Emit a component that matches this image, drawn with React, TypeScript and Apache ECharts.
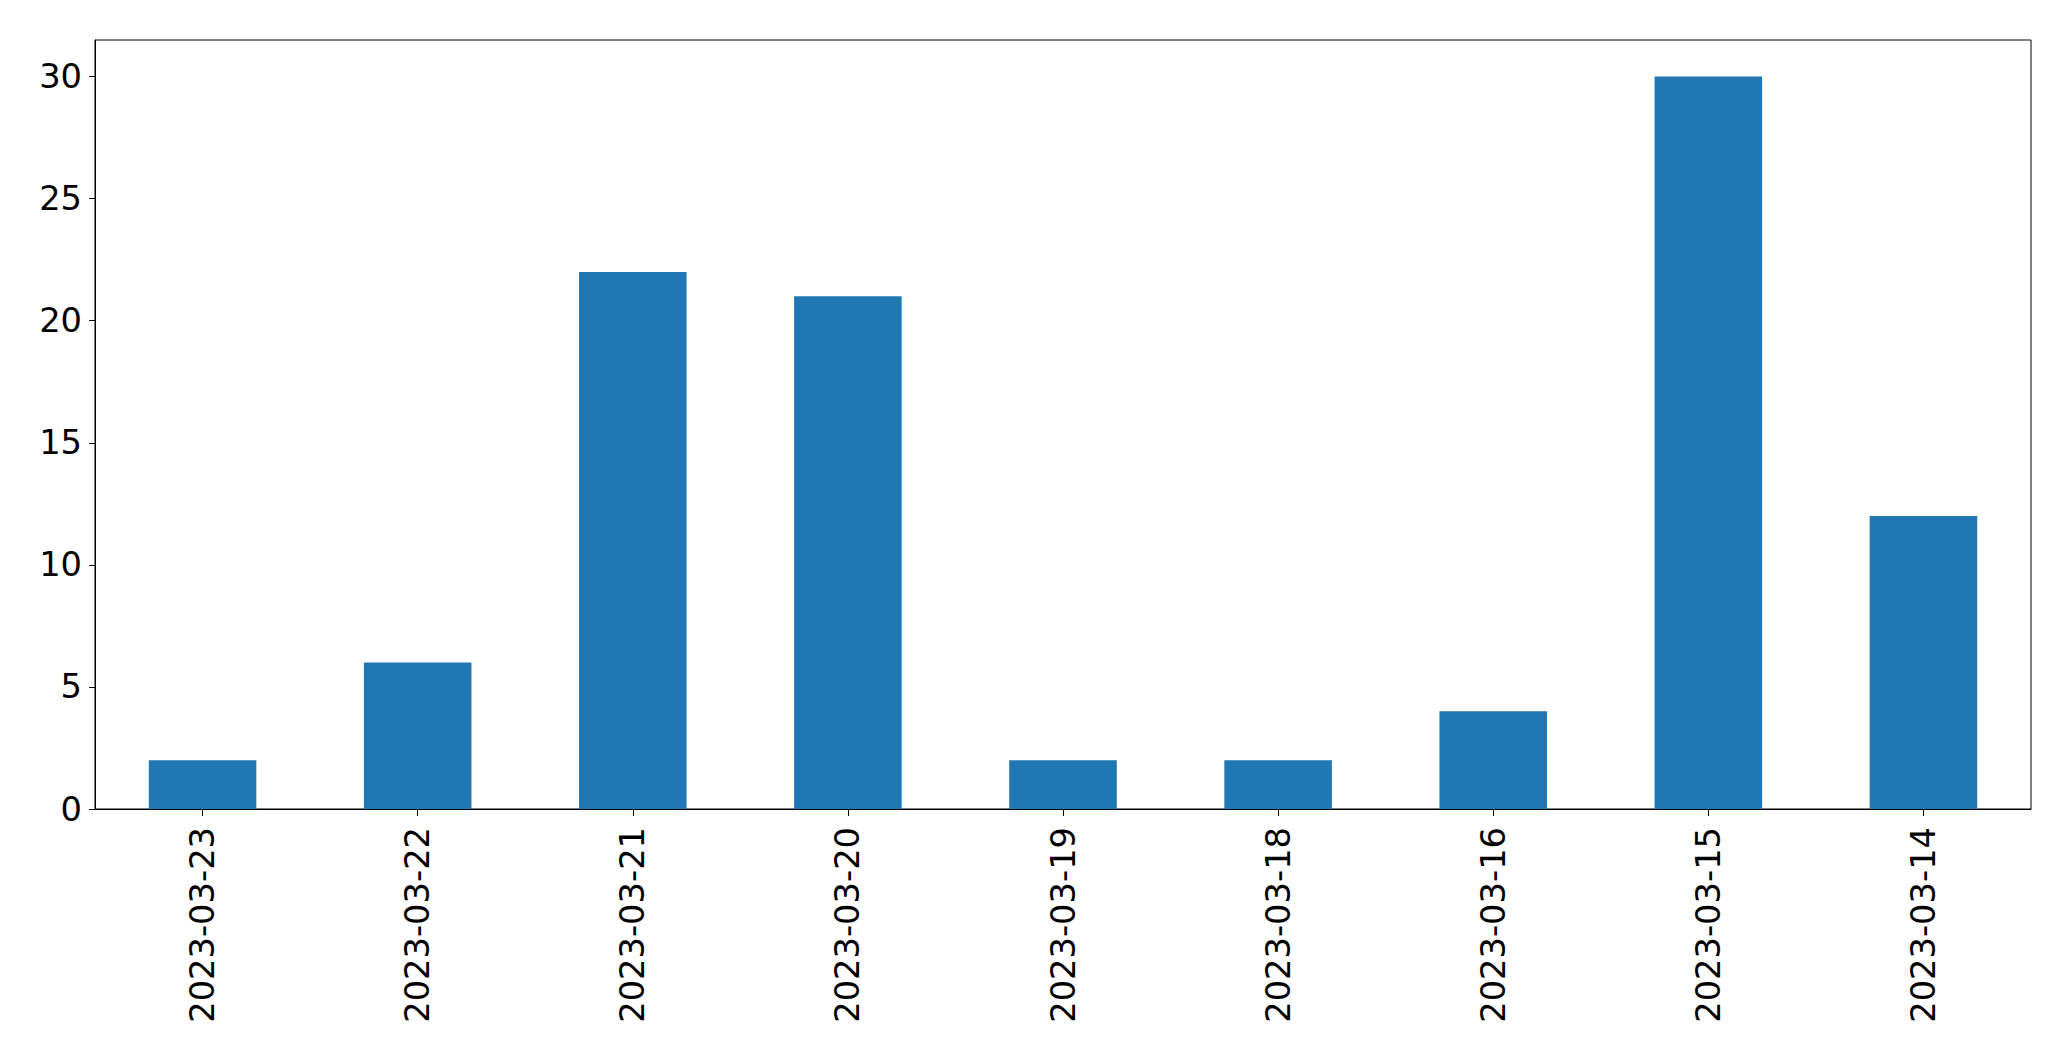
import React, { useEffect, useRef } from "react";
import * as echarts from "echarts";

const categories = [
  "2023-03-23",
  "2023-03-22",
  "2023-03-21",
  "2023-03-20",
  "2023-03-19",
  "2023-03-18",
  "2023-03-16",
  "2023-03-15",
  "2023-03-14",
];
const counts = [2, 6, 22, 21, 2, 2, 4, 30, 12];
const yTicks = [0, 5, 10, 15, 20, 25, 30];

const FONT = "DejaVu Sans";

export default function App() {
  const ref = useRef<HTMLDivElement>(null);
  useEffect(() => {
    if (!ref.current) return;
    const chart = echarts.init(ref.current, null, { renderer: "svg" });
    chart.setOption({
      animation: false,
      backgroundColor: "#ffffff",
      grid: {
        left: 95,
        right: 40,
        top: 40,
        bottom: 252,
        show: true,
        borderColor: "#000000",
        borderWidth: 1,
        backgroundColor: "transparent",
      },
      xAxis: {
        type: "category",
        data: categories,
        boundaryGap: true,
        axisLine: { show: true, lineStyle: { color: "#000000", width: 1 } },
        axisTick: {
          show: true,
          alignWithLabel: true,
          length: 7,
          lineStyle: { color: "#000000", width: 1 },
        },
        axisLabel: {
          rotate: 90,
          interval: 0,
          margin: 18,
          color: "#000000",
          fontFamily: FONT,
          fontSize: 33.7,
        },
        splitLine: { show: false },
      },
      yAxis: {
        type: "value",
        min: 0,
        max: 31.5,
        interval: 5,
        axisLine: { show: true, lineStyle: { color: "#000000", width: 1 } },
        axisTick: {
          show: true,
          length: 6,
          customValues: yTicks,
          lineStyle: { color: "#000000", width: 1 },
        },
        axisLabel: {
          margin: 13,
          color: "#000000",
          fontFamily: FONT,
          fontSize: 33.7,
          customValues: yTicks,
        },
        splitLine: { show: false },
      },
      series: [
        {
          type: "bar",
          data: counts,
          barCategoryGap: "50%",
          itemStyle: { color: "#1f77b4" },
        },
      ],
    });
    return () => chart.dispose();
  }, []);
  return (
    <div
      ref={ref}
      style={{ position: "fixed", left: 0, top: 0, width: 2071, height: 1061, background: "#ffffff" }}
    />
  );
}
